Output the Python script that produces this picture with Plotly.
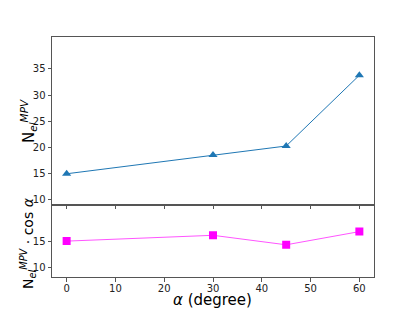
import plotly.graph_objects as go

alpha = [0, 30, 45, 60]
n_mpv = [15.0, 18.6, 20.3, 33.8]
n_mpv_cos = [15.0, 16.1, 14.3, 16.8]
top_ticks = [10, 15, 20, 25, 30, 35]
bot_ticks = [10, 15]
x_ticks = [0, 10, 20, 30, 40, 50, 60]

OFF = 8  # page body margin
W, H = 415 - OFF, 312 - OFF
L, R, T, B = 52 - OFF, 41, 37 - OFF, 35
ph = H - T - B
pw = W - L - R
split = (277.3 - 205.0) / (277.3 - 37.3)

fig = go.Figure()
fig.add_trace(go.Scatter(x=alpha, y=n_mpv, mode="lines+markers",
                         line=dict(color="#1f77b4", width=1),
                         marker=dict(symbol="triangle-up", size=8, color="#1f77b4"),
                         xaxis="x2", yaxis="y2", showlegend=False))
fig.add_trace(go.Scatter(x=alpha, y=n_mpv_cos, mode="lines+markers",
                         line=dict(color="#ff55ff", width=1),
                         marker=dict(symbol="square", size=8, color="#ff00ff"),
                         xaxis="x", yaxis="y", showlegend=False))

axis_common = dict(showline=True, linecolor="#555", linewidth=1, mirror=True,
                   ticks="outside", ticklen=3.5, tickcolor="#555", showgrid=False,
                   zeroline=False, tickfont=dict(size=10, color="#222", family="DejaVu Sans"))


def px(x, y):
    return (x - OFF - L) / pw, 1 - (y - OFF - T) / ph


ann = []
for text, (x, y), ang, size in [
    ("N<sub><i>el</i></sub><sup><i>MPV</i></sup>", (28, 121), -90, 15),
    ("N<sub><i>el</i></sub><sup><i>MPV</i></sup> · cos <i>α</i>", (28, 243), -90, 14),
    ("<i>α</i> (degree)", (212, 300), 0, 15),
]:
    ax, ay = px(x, y)
    ann.append(dict(text=text, x=ax, y=ay, xref="paper", yref="paper", textangle=ang,
                    showarrow=False, xanchor="center", yanchor="middle",
                    font=dict(size=size, color="black", family="DejaVu Sans")))

fig.update_layout(
    width=W, height=H, margin=dict(l=L, r=R, t=T, b=B),
    paper_bgcolor="white", plot_bgcolor="white",
    xaxis=dict(domain=[0, 1], range=[-3, 63], tickvals=x_ticks, anchor="y",
               ticklabelstandoff=-2, **axis_common),
    yaxis=dict(domain=[0, split], range=[8.2, 21.9], tickvals=bot_ticks, anchor="x", **axis_common),
    xaxis2=dict(domain=[0, 1], range=[-3, 63], tickvals=x_ticks, showticklabels=False,
                anchor="y2", matches="x", **axis_common),
    yaxis2=dict(domain=[split, 1], range=[9.1, 41.1], tickvals=top_ticks, anchor="x2", **axis_common),
    annotations=ann,
)

fig.write_html("out.html")
